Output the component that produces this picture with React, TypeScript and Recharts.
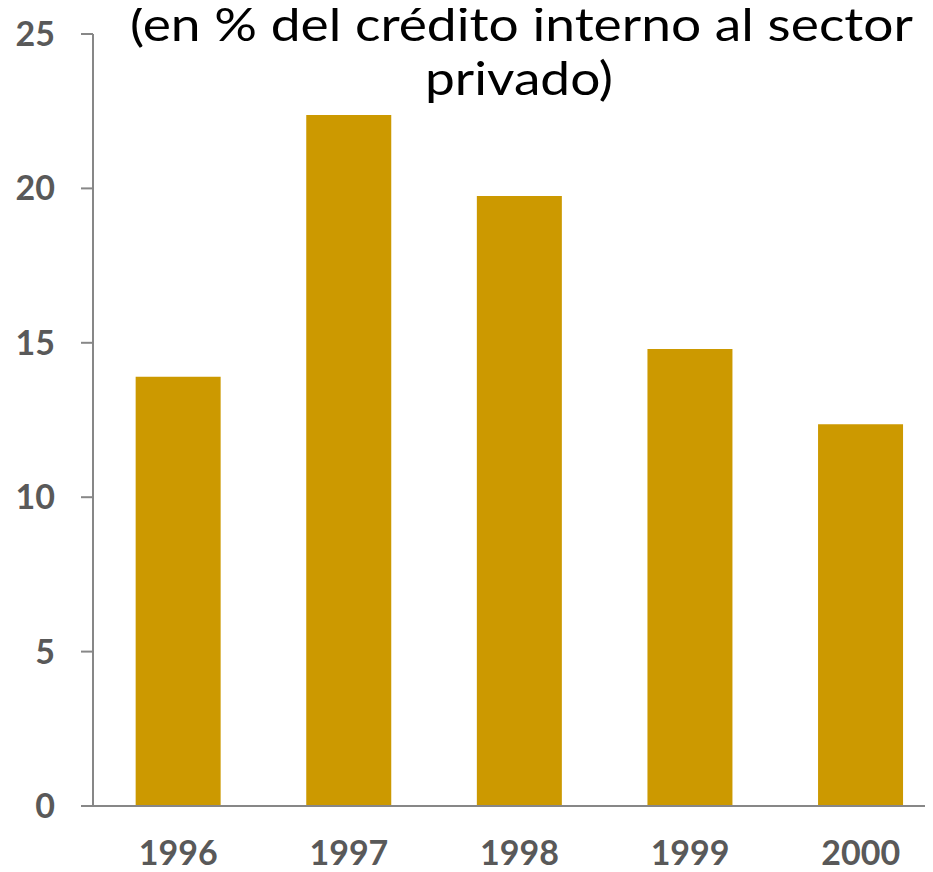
import React from 'react';
import { BarChart, Bar, XAxis, YAxis } from 'recharts';

const years = ['1996', '1997', '1998', '1999', '2000'];
const values = [13.9, 22.38, 19.75, 14.8, 12.36];
const yTicks = [0, 5, 10, 15, 20, 25];
const titleLines = ['(en % del crédito interno al sector', 'privado)'];

const data = years.map((y, i) => ({ year: y, value: values[i] }));

const tickStyle = {
  fill: '#595959',
  fontSize: 34,
  fontWeight: 700,
  fontFamily: 'Lato, "Open Sans", sans-serif',
};

export default function App() {
  return (
    <div style={{ position: 'relative', width: 925, height: 864, overflow: 'hidden' }}>
      <BarChart
        width={945}
        height={864}
        data={data}
        margin={{ top: 26, right: 7, left: 0, bottom: 0 }}
        barCategoryGap="25%"
      >
        <XAxis
          dataKey="year"
          height={66}
          tickLine={false}
          tickSize={6}
          tickMargin={29}
          axisLine={{ stroke: '#878787', strokeWidth: 2 }}
          tick={tickStyle}
          interval={0}
        />
        <YAxis
          width={85}
          domain={[0, 25]}
          ticks={yTicks}
          tickSize={12}
          tickMargin={26}
          axisLine={{ stroke: '#878787', strokeWidth: 2 }}
          tickLine={{ stroke: '#878787', strokeWidth: 2 }}
          tick={tickStyle}
          interval={0}
        />
        <Bar dataKey="value" fill="#CC9900" isAnimationActive={false} />
      </BarChart>
      <svg
        width={925}
        height={120}
        style={{ position: 'absolute', left: 0, top: 0, pointerEvents: 'none' }}
      >
        <text
          x={122}
          y={33}
          textLength={783}
          lengthAdjust="spacingAndGlyphs"
          fontSize={46}
          fontWeight={400}
          fontFamily='Lato, "Open Sans", sans-serif'
          fill="#000"
        >
          {titleLines[0]}
        </text>
        <text
          x={417}
          y={87}
          textLength={188}
          lengthAdjust="spacingAndGlyphs"
          fontSize={46}
          fontWeight={400}
          fontFamily='Lato, "Open Sans", sans-serif'
          fill="#000"
        >
          {titleLines[1]}
        </text>
      </svg>
    </div>
  );
}
